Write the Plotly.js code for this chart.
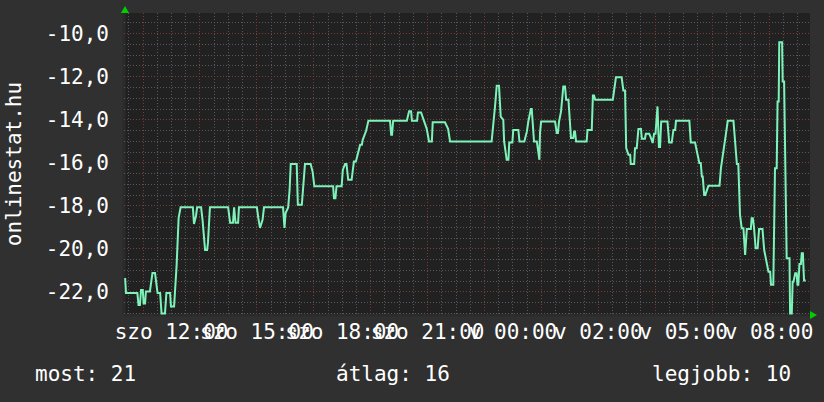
<!DOCTYPE html>
<html>
<head>
<meta charset="utf-8">
<script src="https://cdn.plot.ly/plotly-3.0.1.min.js"></script>
<style>
  html, body { margin: 0; padding: 0; background: #303030; }
  #chart { width: 824px; height: 402px; }
</style>
</head>
<body>
<div id="chart"></div>
<script>
// Time in hours since Saturday 00:00 (continuous clock), value of the series
const hours = [
  10.37, 10.40, 10.80, 10.84, 10.89, 10.93, 10.99, 11.02, 11.07, 11.10,
  11.24, 11.28, 11.33, 11.42, 11.46, 11.51, 11.60, 11.65, 11.77, 11.82,
  11.95, 11.98, 12.09, 12.12, 12.18, 12.25, 12.32, 12.75, 12.79, 12.86,
  12.90, 13.04, 13.09, 13.18, 13.25, 13.28, 13.35, 13.99, 14.06, 14.16,
  14.20, 14.25, 14.34, 14.37, 15.00, 15.05, 15.11, 15.20, 15.25, 15.92,
  15.97, 16.01, 16.10, 16.15, 16.19, 16.40, 16.44, 16.58, 16.64, 16.69,
  16.89, 16.96, 17.02, 17.68, 17.71, 17.76, 17.80, 17.98, 18.02, 18.10,
  18.15, 18.19, 18.21, 18.33, 18.37, 18.41, 18.48, 18.54, 18.63, 18.69,
  18.72, 18.84, 18.92, 19.68, 19.72, 19.75, 19.79, 20.27, 20.35, 20.42,
  20.45, 20.63, 20.66, 20.77, 20.86, 20.97, 21.05, 21.15, 21.18, 21.61,
  21.72, 21.79, 23.25, 23.31, 23.37, 23.43, 23.51, 23.57, 23.66, 23.69,
  23.72, 23.78, 23.84, 23.87, 23.98, 24.01, 24.19, 24.23, 24.40, 24.49,
  24.54, 24.63, 24.66, 24.70, 24.74, 24.84, 24.87, 24.93, 24.95, 24.99,
  25.48, 25.54, 25.58, 25.62, 25.69, 25.77, 25.83, 25.87, 25.95, 25.98,
  26.04, 26.12, 26.15, 26.18, 26.22, 26.59, 26.62, 26.77, 26.81, 26.85,
  26.89, 27.51, 27.55, 27.62, 27.82, 27.88, 27.94, 27.98, 28.06, 28.12,
  28.14, 28.26, 28.29, 28.35, 28.41, 28.50, 28.53, 28.64, 28.67, 28.79,
  28.85, 28.91, 28.96, 29.01, 29.08, 29.13, 29.17, 29.21, 29.43, 29.49,
  29.58, 29.64, 29.70, 29.73, 30.20, 30.25, 30.40, 30.46, 30.55, 30.60,
  30.64, 30.67, 30.72, 30.76, 30.87, 31.26, 31.31, 31.48, 31.55, 31.75,
  31.81, 31.87, 31.92, 31.98, 32.04, 32.10, 32.16, 32.22, 32.36, 32.39,
  32.43, 32.47, 32.53, 32.60, 32.65, 32.77, 32.83, 32.90, 32.98, 33.04,
  33.07, 33.15, 33.21, 33.27, 33.30, 33.34, 33.36, 33.46, 33.48, 33.53,
  33.56, 33.62, 33.72, 33.74, 33.80, 33.83, 33.86, 33.92, 33.97, 34.00,
  34.03, 34.07, 34.12, 34.15, 34.19, 34.23, 34.29
];
const values = [
  -21.35, -22.05, -22.05, -22.60, -22.60, -21.91, -21.91, -22.53, -22.53, -21.98,
  -21.98, -21.58, -21.12, -21.12, -21.44, -22.05, -22.05, -23.00, -23.00, -22.05,
  -22.05, -22.67, -22.67, -22.05, -20.74, -18.56, -18.07, -18.07, -18.84, -18.47,
  -18.07, -18.07, -18.65, -20.05, -20.05, -19.72, -18.07, -18.07, -18.79, -18.79,
  -18.07, -18.79, -18.79, -18.07, -18.07, -18.56, -19.02, -18.65, -18.07, -18.07,
  -19.02, -18.33, -18.07, -17.26, -16.06, -16.06, -17.95, -17.95, -16.79, -16.06,
  -16.06, -16.42, -17.09, -17.09, -17.65, -17.65, -17.09, -17.09, -16.33, -16.05,
  -16.05, -16.42, -16.79, -16.79, -16.47, -15.94, -15.94, -15.63, -15.16, -15.16,
  -14.93, -14.51, -14.05, -14.05, -14.70, -14.70, -14.05, -14.05, -13.61, -13.61,
  -14.05, -14.05, -13.66, -13.66, -14.05, -14.42, -15.01, -15.01, -14.12, -14.12,
  -14.42, -15.01, -15.01, -14.31, -13.38, -12.42, -12.42, -13.85, -14.00, -15.01,
  -15.40, -15.86, -15.86, -15.06, -15.06, -14.47, -14.47, -15.01, -15.01, -14.54,
  -14.08, -13.50, -13.50, -14.08, -15.01, -15.01, -15.40, -15.86, -14.62, -14.08,
  -14.08, -14.62, -14.62, -14.08, -13.61, -12.45, -12.45, -13.07, -13.07, -13.67,
  -14.85, -14.85, -14.54, -14.54, -15.01, -15.01, -14.47, -14.47, -12.87, -12.87,
  -13.07, -13.07, -12.74, -12.03, -12.03, -12.64, -12.64, -15.32, -15.63, -15.63,
  -16.05, -16.05, -15.32, -15.32, -14.43, -14.43, -14.88, -14.88, -14.65, -14.65,
  -14.84, -15.08, -14.65, -14.65, -13.38, -15.27, -15.27, -14.08, -14.08, -15.06,
  -15.06, -14.47, -14.47, -14.05, -14.05, -15.06, -15.06, -15.40, -16.01, -16.01,
  -16.64, -16.64, -17.49, -17.49, -17.07, -17.07, -16.25, -14.70, -14.05, -14.05,
  -14.93, -16.06, -16.06, -18.42, -19.04, -19.04, -20.28, -19.08, -19.08, -18.57,
  -18.57, -18.98, -19.97, -19.97, -19.08, -19.08, -20.05, -20.51, -21.06, -21.06,
  -21.67, -21.67, -16.25, -16.25, -13.15, -13.15, -10.40, -10.40, -12.22, -12.22,
  -15.16, -20.43, -20.43, -23.00, -23.00, -21.52, -21.52, -21.13, -21.13, -21.67,
  -21.67, -20.70, -20.70, -20.20, -20.20, -21.47, -21.47
];

const xTickVals = [12, 15, 18, 21, 24, 27, 30, 33];
const xTickText = ["szo 12:00", "szo 15:00", "szo 18:00", "szo 21:00",
                   "v 00:00", "v 02:00", "v 05:00", "v 08:00"];
const yTickVals = [-22, -20, -18, -16, -14, -12, -10];
const yTickText = ["-22,0", "-20,0", "-18,0", "-16,0", "-14,0", "-12,0", "-10,0"];

const yTitle = "onlinestat.hu";
const summaryLabels = ["most: 21", "átlag: 16", "legjobb: 10"];

const xRange = [10.33, 34.44];
const yRange = [-23.07, -9.04];

const FONT = "DejaVu Sans Mono";
const minorGrid = '#585858';
const majorGrid = '#7c3b3b';
const dash = '1px,2px';

const trace = {
  x: hours, y: values, type: 'scatter', mode: 'lines',
  line: { color: '#7df3b9', width: 2 },
  hoverinfo: 'skip'
};
// empty trace so that the labelled overlay axis is built
const labelAxisTrace = { x: [], y: [], type: 'scatter', mode: 'lines', xaxis: 'x2', hoverinfo: 'skip' };

const layout = {
  width: 824, height: 402,
  paper_bgcolor: '#303030', plot_bgcolor: '#212121',
  margin: { l: 124, r: 14, t: 13, b: 87 },
  font: { family: FONT, color: '#ffffff', size: 21 },
  showlegend: false,
  xaxis: {
    range: xRange, tickmode: 'linear', tick0: 11, dtick: 2,
    showticklabels: false, ticks: '', zeroline: false, showline: false,
    showgrid: true, gridcolor: majorGrid, griddash: dash, gridwidth: 1,
    minor: { tickmode: 'linear', tick0: 11, dtick: 0.5, showgrid: true,
             gridcolor: minorGrid, griddash: dash, gridwidth: 1, ticks: '' }
  },
  xaxis2: {
    overlaying: 'x', anchor: 'y', side: 'bottom', range: xRange,
    tickmode: 'array', tickvals: xTickVals, ticktext: xTickText,
    tickangle: 0, showgrid: false, zeroline: false, ticks: '',
    tickfont: { family: FONT, size: 21, color: '#ffffff' },
    ticklabelstandoff: 2
  },
  yaxis: {
    range: yRange, tickmode: 'array', tickvals: yTickVals, ticktext: yTickText,
    ticks: '', zeroline: false, showline: false,
    showgrid: true, gridcolor: majorGrid, griddash: dash, gridwidth: 1,
    minor: { tickmode: 'linear', tick0: -22, dtick: 0.5, showgrid: true,
             gridcolor: minorGrid, griddash: dash, gridwidth: 1, ticks: '' },
    tickfont: { family: FONT, size: 21, color: '#ffffff' },
    ticklabelstandoff: 14
  },
  annotations: [
    { text: yTitle, xref: 'paper', yref: 'paper', x: -0.160, y: 0.5,
      xanchor: 'center', yanchor: 'middle', textangle: -90, showarrow: false,
      font: { family: FONT, size: 21, color: '#ffffff' } },
    { text: summaryLabels[0], xref: 'paper', yref: 'paper', x: (33 - 124) / 686, y: (315 - 374) / 302,
      xanchor: 'left', yanchor: 'middle', showarrow: false,
      font: { family: FONT, size: 21, color: '#ffffff' } },
    { text: summaryLabels[1], xref: 'paper', yref: 'paper', x: (334 - 124) / 686, y: (315 - 374) / 302,
      xanchor: 'left', yanchor: 'middle', showarrow: false,
      font: { family: FONT, size: 21, color: '#ffffff' } },
    { text: summaryLabels[2], xref: 'paper', yref: 'paper', x: (650 - 124) / 686, y: (315 - 374) / 302,
      xanchor: 'left', yanchor: 'middle', showarrow: false,
      font: { family: FONT, size: 21, color: '#ffffff' } }
  ],
  shapes: [
    { type: 'line', xref: 'paper', yref: 'paper', x0: 0, x1: 0, y0: 0, y1: 1,
      line: { color: '#2b2b2b', width: 3 }, layer: 'below' },
    { type: 'line', xref: 'paper', yref: 'paper', x0: 0, x1: 1, y0: 0, y1: 0,
      line: { color: '#2b2b2b', width: 3 }, layer: 'below' },
    { type: 'path', xref: 'paper', yref: 'paper', xsizemode: 'pixel', ysizemode: 'pixel',
      xanchor: 0, yanchor: 1, path: 'M -3,0 L 5,0 L 1,7 Z',
      fillcolor: '#00d000', line: { width: 0 } },
    { type: 'path', xref: 'paper', yref: 'paper', xsizemode: 'pixel', ysizemode: 'pixel',
      xanchor: 1, yanchor: 0, path: 'M 0,-4 L 0,4 L 7,0 Z',
      fillcolor: '#00d000', line: { width: 0 } }
  ]
};

Plotly.newPlot('chart', [labelAxisTrace, trace], layout, { staticPlot: true, displayModeBar: false });
</script>
</body>
</html>
